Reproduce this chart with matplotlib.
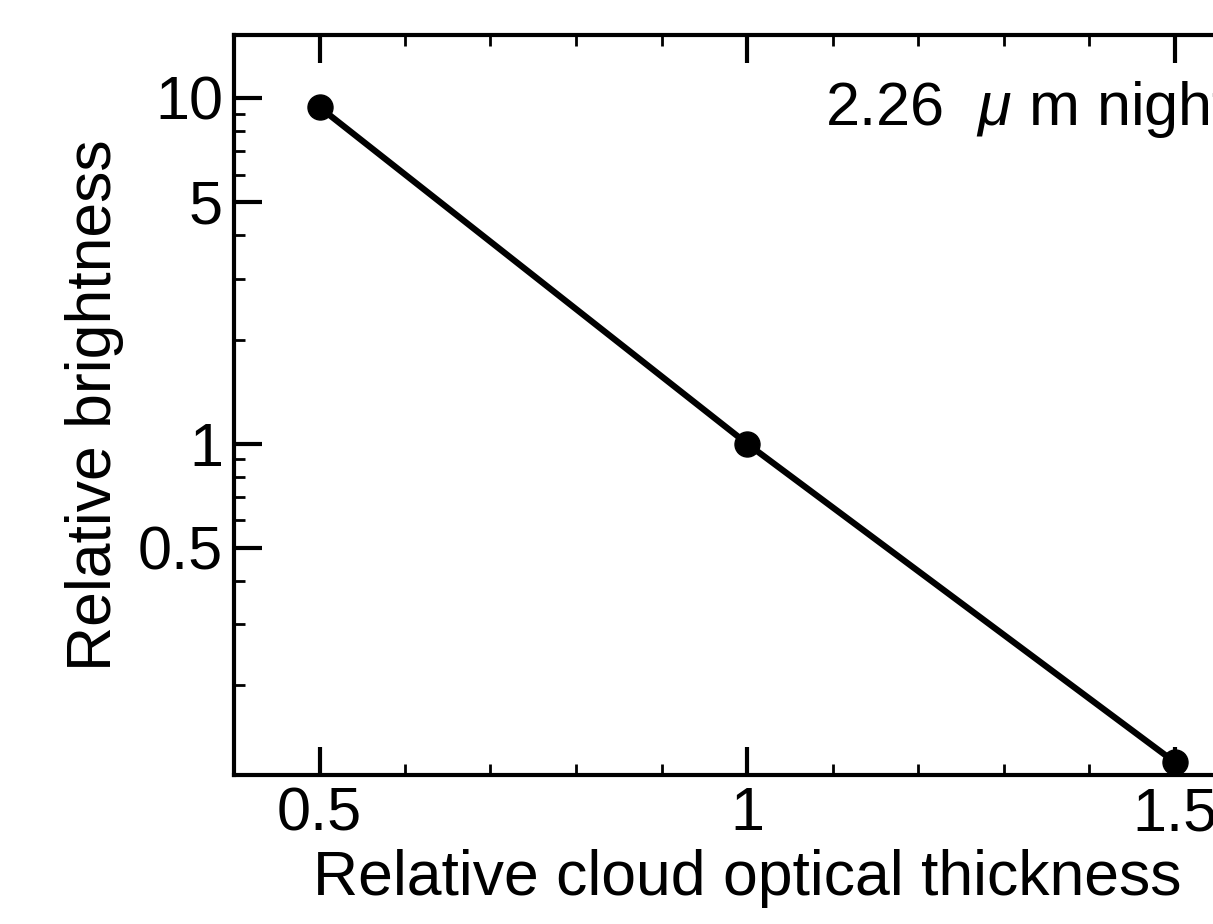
import matplotlib
matplotlib.use("Agg")
import matplotlib.pyplot as plt
from matplotlib.ticker import FixedLocator, NullFormatter, FixedFormatter

plt.rcParams['font.family'] = ['Liberation Sans', 'DejaVu Sans']
plt.rcParams['mathtext.fontset'] = 'custom'
plt.rcParams['mathtext.rm'] = 'Liberation Sans'
plt.rcParams['mathtext.it'] = 'Liberation Sans:italic'

# data
thickness = [0.5, 1.0, 1.5]
brightness = [9.4, 1.0, 0.12]
x_ticks = [0.5, 1.0, 1.5]
x_ticklabels = ["0.5", "1", "1.5"]
y_ticks = [0.5, 1, 5, 10]
y_ticklabels = ["0.5", "1", "5", "10"]
y_minor = [0.2, 0.3, 0.4, 0.6, 0.7, 0.8, 0.9, 2, 3, 4, 6, 7, 8, 9]
x_minor = [0.4, 0.6, 0.7, 0.8, 0.9, 1.1, 1.2, 1.3, 1.4, 1.6]

fig = plt.figure(figsize=(12.13, 9.24), dpi=100)
ax = fig.add_axes([234/1213, 1-775/924, (1260-234)/1213, (775-35)/924])

ax.plot(thickness, brightness, color='black', lw=4.5, marker='o', ms=18, zorder=3, clip_on=False)
ax.set_yscale('log')
ax.set_xlim(0.4, 1.6)
ax.set_ylim(0.11, 15.2)

ax.xaxis.set_major_locator(FixedLocator(x_ticks))
ax.xaxis.set_major_formatter(FixedFormatter(x_ticklabels))
ax.xaxis.set_minor_locator(FixedLocator(x_minor))
ax.yaxis.set_major_locator(FixedLocator(y_ticks))
ax.yaxis.set_major_formatter(FixedFormatter(y_ticklabels))
ax.yaxis.set_minor_locator(FixedLocator(y_minor))
ax.yaxis.set_minor_formatter(NullFormatter())

ax.tick_params(which='both', direction='in', top=True, right=True, labelsize=44, colors='black')
ax.tick_params(which='major', length=20, width=3, pad=8)
ax.tick_params(which='minor', length=8, width=2)
for s in ax.spines.values():
    s.set_linewidth(3)

ax.set_xlabel("Relative cloud optical thickness", fontsize=45, labelpad=4)
ax.set_ylabel("Relative brightness", fontsize=45, labelpad=10)

ax.text(0.576, 0.899, "2.26  $\\mu$ m nightside", transform=ax.transAxes,
        fontsize=44, ha='left', va='center')

fig.savefig("out.png", dpi=100)
